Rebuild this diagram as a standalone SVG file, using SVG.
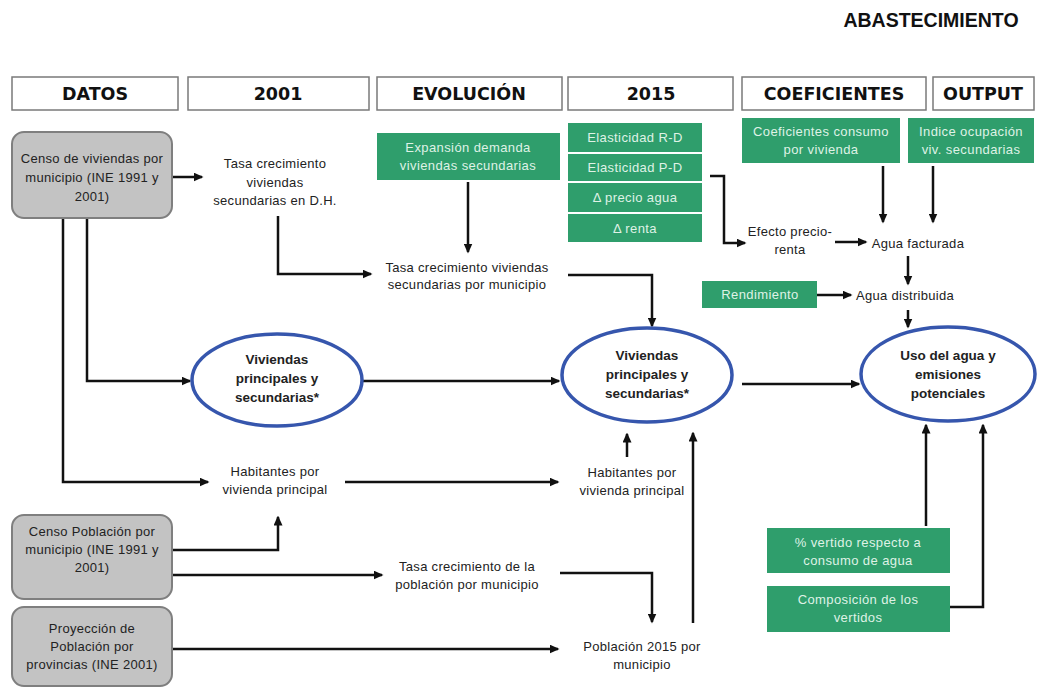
<svg xmlns="http://www.w3.org/2000/svg" width="1038" height="689" viewBox="0 0 1038 689">
<style>
.hdr{fill:#fff;stroke:#7a7a7a;stroke-width:1.5}
.ht{font-family:"DejaVu Sans",sans-serif;font-weight:bold;font-size:17.5px;fill:#111;text-anchor:middle}
.gray{fill:#c3c3c3;stroke:#7f7f7f;stroke-width:2}
.grn{fill:#2f9e6c}
.gt{font-family:"Liberation Sans",Arial,sans-serif;font-size:13px;letter-spacing:0.4px;fill:#dff2e6;text-anchor:middle}
.t{font-family:"Liberation Sans",Arial,sans-serif;font-size:13px;letter-spacing:0.3px;fill:#222;text-anchor:middle}
.et{font-family:"Liberation Sans",Arial,sans-serif;font-size:13.5px;font-weight:bold;fill:#222;text-anchor:middle}
.ell{fill:#fff;stroke:#3656ad;stroke-width:3.5}
.c{fill:none;stroke:#111;stroke-width:2.5}
.a{marker-end:url(#ar)}
</style>
<defs>
<marker id="ar" markerUnits="userSpaceOnUse" markerWidth="10" markerHeight="9" viewBox="0 0 10 9" refX="8.5" refY="4.5" orient="auto">
<path d="M0,0 L10,4.5 L0,9 z" fill="#111"/>
</marker>
</defs>

<text x="931" y="27" font-family="Liberation Sans, Arial, sans-serif" font-weight="bold" font-size="19.5" fill="#111" text-anchor="middle">ABASTECIMIENTO</text>

<g id="headers">
<rect class="hdr" x="12" y="77" width="166" height="33"/><text class="ht" x="95" y="100">DATOS</text>
<rect class="hdr" x="188" y="77" width="181" height="33"/><text class="ht" x="278" y="100">2001</text>
<rect class="hdr" x="377" y="77" width="185" height="33"/><text class="ht" x="469" y="100">EVOLUCIÓN</text>
<rect class="hdr" x="568" y="77" width="165" height="33"/><text class="ht" x="651" y="100">2015</text>
<rect class="hdr" x="742" y="77" width="184" height="33"/><text class="ht" x="834" y="100">COEFICIENTES</text>
<rect class="hdr" x="933" y="77" width="101" height="33"/><text class="ht" x="983" y="100">OUTPUT</text>
</g>

<g id="connectors">
<path class="c a" d="M172,177 H202"/>
<path class="c a" d="M278,216 V274 H371"/>
<path class="c a" d="M468,182 V252"/>
<path class="c a" d="M710,176 H724 V243 H745"/>
<path class="c a" d="M835,242 H866"/>
<path class="c a" d="M883,166 V222"/>
<path class="c a" d="M933,166 V222"/>
<path class="c a" d="M908,256 V284"/>
<path class="c a" d="M817,295 H851"/>
<path class="c a" d="M908,310 V327"/>
<path class="c a" d="M568,275 H652 V326"/>
<path class="c a" d="M87,218 V381 H190"/>
<path class="c a" d="M63,218 V482 H208"/>
<path class="c a" d="M363,381 H559"/>
<path class="c a" d="M742,384 H859"/>
<path class="c a" d="M345,482 H558"/>
<path class="c a" d="M627,457 V434"/>
<path class="c a" d="M693,623 V433"/>
<path class="c a" d="M926,526 V425"/>
<path class="c a" d="M950,607 H983 V425"/>
<path class="c a" d="M172,550 H278 V517"/>
<path class="c a" d="M172,575 H382"/>
<path class="c a" d="M560,573 H652 V622"/>
<path class="c a" d="M172,649 H558"/>
</g>

<g id="censo-viviendas">
<rect class="gray" x="12" y="132" width="160" height="86" rx="12"/>
<text class="t" x="92" y="163">Censo de viviendas por</text>
<text class="t" x="92" y="182">municipio (INE 1991 y</text>
<text class="t" x="92" y="201">2001)</text>
</g>
<g id="tasa-dh">
<text class="t" x="275" y="168">Tasa crecimiento</text>
<text class="t" x="275" y="187">viviendas</text>
<text class="t" x="275" y="205">secundarias en D.H.</text>
</g>
<g id="expansion">
<rect class="grn" x="377" y="133" width="183" height="47"/>
<text class="gt" x="468" y="152">Expansión demanda</text>
<text class="gt" x="468" y="170">viviendas secundarias</text>
</g>
<g id="tasa-mun">
<text class="t" x="467" y="272">Tasa crecimiento viviendas</text>
<text class="t" x="467" y="289">secundarias por municipio</text>
</g>
<g id="elasticidades">
<rect class="grn" x="568" y="123" width="134" height="29"/><text class="gt" x="635" y="142">Elasticidad R-D</text>
<rect class="grn" x="568" y="154" width="134" height="27"/><text class="gt" x="635" y="172">Elasticidad P-D</text>
<rect class="grn" x="568" y="183" width="134" height="29"/><text class="gt" x="635" y="202">Δ precio agua</text>
<rect class="grn" x="568" y="214" width="134" height="28"/><text class="gt" x="635" y="233">Δ renta</text>
</g>
<g id="efecto">
<text class="t" x="790" y="236">Efecto precio-</text>
<text class="t" x="790" y="254">renta</text>
</g>
<g id="coef-consumo">
<rect class="grn" x="742" y="118" width="158" height="45"/>
<text class="gt" x="821" y="136">Coeficientes consumo</text>
<text class="gt" x="821" y="154">por vivienda</text>
</g>
<g id="indice">
<rect class="grn" x="908" y="118" width="126" height="45"/>
<text class="gt" x="971" y="136">Indice ocupación</text>
<text class="gt" x="971" y="154">viv. secundarias</text>
</g>
<g id="agua-facturada"><text class="t" x="918" y="248">Agua facturada</text></g>
<g id="rendimiento">
<rect class="grn" x="702" y="281" width="115" height="27"/>
<text class="gt" x="760" y="299">Rendimiento</text>
</g>
<g id="agua-distribuida"><text class="t" x="905" y="300">Agua distribuida</text></g>

<g id="viviendas-2001">
<ellipse class="ell" cx="277" cy="380" rx="85" ry="46"/>
<text class="et" x="277" y="364">Viviendas</text>
<text class="et" x="277" y="383">principales y</text>
<text class="et" x="277" y="402">secundarias*</text>
</g>
<g id="viviendas-2015">
<ellipse class="ell" cx="647" cy="375" rx="85" ry="47"/>
<text class="et" x="647" y="360">Viviendas</text>
<text class="et" x="647" y="379">principales y</text>
<text class="et" x="647" y="398">secundarias*</text>
</g>
<g id="uso-agua">
<ellipse class="ell" cx="948" cy="374" rx="87" ry="47"/>
<text class="et" x="948" y="360">Uso del agua y</text>
<text class="et" x="948" y="379">emisiones</text>
<text class="et" x="948" y="398">potenciales</text>
</g>

<g id="habitantes-2001">
<text class="t" x="275" y="476">Habitantes por</text>
<text class="t" x="275" y="494">vivienda principal</text>
</g>
<g id="habitantes-2015">
<text class="t" x="632" y="477">Habitantes por</text>
<text class="t" x="632" y="495">vivienda principal</text>
</g>

<g id="vertido">
<rect class="grn" x="767" y="528" width="183" height="45"/>
<text class="gt" x="858" y="547">% vertido respecto a</text>
<text class="gt" x="858" y="565">consumo de agua</text>
</g>
<g id="composicion">
<rect class="grn" x="767" y="586" width="183" height="46"/>
<text class="gt" x="858" y="604">Composición de los</text>
<text class="gt" x="858" y="622">vertidos</text>
</g>

<g id="censo-poblacion">
<rect class="gray" x="12" y="515" width="160" height="84" rx="12"/>
<text class="t" x="92" y="536">Censo Población por</text>
<text class="t" x="92" y="554">municipio (INE 1991 y</text>
<text class="t" x="92" y="572">2001)</text>
</g>
<g id="proyeccion">
<rect class="gray" x="12" y="607" width="160" height="79" rx="12"/>
<text class="t" x="92" y="633">Proyección de</text>
<text class="t" x="92" y="651">Población por</text>
<text class="t" x="92" y="669">provincias (INE 2001)</text>
</g>
<g id="tasa-poblacion">
<text class="t" x="467" y="571">Tasa crecimiento de la</text>
<text class="t" x="467" y="589">población por municipio</text>
</g>
<g id="poblacion-2015">
<text class="t" x="642" y="651">Población 2015 por</text>
<text class="t" x="642" y="669">municipio</text>
</g>
</svg>
